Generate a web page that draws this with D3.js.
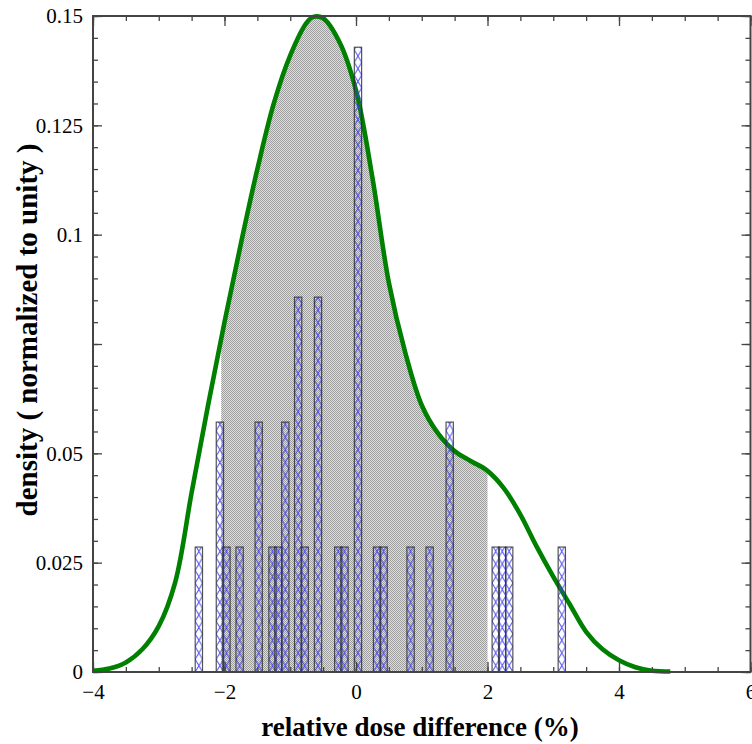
<!DOCTYPE html>
<html>
<head>
<meta charset="utf-8">
<script src="https://cdn.jsdelivr.net/npm/d3@7"></script>
<style>
  body { margin: 0; background: #fff; }
  svg { display: block; font-family: "Liberation Serif", "DejaVu Serif", serif; }
</style>
</head>
<body>
<script>
// histogram bins: centre of each bar (%) and number of samples in it
const binCentres = [-2.39, -2.07, -1.97, -1.77, -1.48, -1.27, -1.18, -1.075, -0.88, -0.78,
  -0.578, -0.27, -0.175, 0.03, 0.32, 0.42, 0.83, 1.12, 1.425, 2.125, 2.225, 2.33, 3.13];
const binCounts = [1, 2, 1, 1, 2, 1, 1, 2, 3, 1, 3, 1, 1, 5, 1, 1, 1, 1, 2, 1, 1, 1, 1];
const sampleCount = 35;

// kernel density estimate
const kdeX = [-4.0, -3.75, -3.5, -3.25, -3.0, -2.75, -2.5, -2.25, -2.0, -1.75, -1.5, -1.25,
  -1.0, -0.75, -0.65, -0.5, -0.25, 0.0, 0.25, 0.5, 0.75, 1.0, 1.25, 1.5, 1.75, 2.0, 2.25,
  2.5, 2.75, 3.0, 3.25, 3.5, 3.75, 4.0, 4.25, 4.5, 4.78];
const kdeY = [0.0003, 0.0008, 0.0022, 0.0052, 0.0105, 0.0205, 0.041, 0.061, 0.08, 0.098, 0.115,
  0.13, 0.141, 0.1485, 0.1498, 0.1495, 0.144, 0.133, 0.113, 0.089, 0.073, 0.061, 0.0545,
  0.0505, 0.0482, 0.046, 0.042, 0.036, 0.0286, 0.0218, 0.0155, 0.0092, 0.0052, 0.0027, 0.0011,
  0.0003, 0.0001];

// shaded interval under the curve
const shadeRange = [-2.05, 2.0];

const xDomain = [-4, 6];
const yDomain = [0, 0.15];
const xTicks = [-4, -2, 0, 2, 4, 6];
const yTicks = [0, 0.025, 0.05, 0.075, 0.1, 0.125, 0.15];
const yTickLabels = ["0", "0.025", "0.05", "", "0.1", "0.125", "0.15"];

const width = 752, height = 744;
const margin = { top: 16, right: 1.5, bottom: 72, left: 93 };
const barWidth = 0.111;

const x = d3.scaleLinear().domain(xDomain).range([margin.left, width - margin.right]);
const y = d3.scaleLinear().domain(yDomain).range([height - margin.bottom, margin.top]);

const svg = d3.select("body").append("svg")
  .attr("width", width)
  .attr("height", height);

const defs = svg.append("defs");

// fine grey checker used for the shaded region
const checker = defs.append("pattern")
  .attr("id", "checker")
  .attr("patternUnits", "userSpaceOnUse")
  .attr("width", 2).attr("height", 2);
checker.append("rect").attr("width", 2).attr("height", 2).attr("fill", "#dedede");
checker.append("rect").attr("width", 1).attr("height", 1).attr("fill", "#9e9e9e");
checker.append("rect").attr("x", 1).attr("y", 1).attr("width", 1).attr("height", 1).attr("fill", "#9e9e9e");

defs.append("clipPath").attr("id", "shade-clip")
  .append("rect")
  .attr("x", x(shadeRange[0]))
  .attr("y", margin.top)
  .attr("width", x(shadeRange[1]) - x(shadeRange[0]))
  .attr("height", y(0) - margin.top);

const kde = kdeX.map((v, i) => ({ x: v, y: kdeY[i] }));
const curve = d3.curveCatmullRom.alpha(0.5);

svg.append("path")
  .datum(kde)
  .attr("clip-path", "url(#shade-clip)")
  .attr("fill", "url(#checker)")
  .attr("d", d3.area().curve(curve)
    .x((d) => x(d.x)).y0(y(0)).y1((d) => y(d.y)));

const line = d3.line().curve(curve).x((d) => x(d.x)).y((d) => y(d.y));

svg.append("path")
  .datum(kde)
  .attr("fill", "none")
  .attr("stroke", "#008000")
  .attr("stroke-width", 4.6)
  .attr("stroke-linejoin", "round")
  .attr("d", line);

// histogram bars with blue cross hatching
const bars = binCentres.map((c, i) => ({ c, p: binCounts[i] / sampleCount }));
const bw = x(barWidth) - x(0);

bars.forEach((d, i) => {
  const left = x(d.c) - bw / 2;
  const h = 12.7;
  const pat = defs.append("pattern")
    .attr("id", "hatch" + i)
    .attr("patternUnits", "userSpaceOnUse")
    .attr("x", left).attr("y", y(0))
    .attr("width", bw).attr("height", h);
  pat.append("path")
    .attr("d", `M0,0L${bw},${h}M${bw},0L0,${h}`)
    .attr("stroke", "#3a3af5")
    .attr("stroke-opacity", 0.9)
    .attr("stroke-width", 1)
    .attr("fill", "none");
});

svg.append("g")
  .selectAll("rect")
  .data(bars)
  .join("rect")
  .attr("x", (d) => x(d.c) - bw / 2)
  .attr("y", (d) => y(d.p))
  .attr("width", bw)
  .attr("height", (d) => y(0) - y(d.p))
  .attr("fill", (d, i) => `url(#hatch${i})`)
  .attr("stroke", "#2a2a2a")
  .attr("stroke-opacity", 0.8)
  .attr("stroke-width", 1.2);

// frame and inward ticks
const xMinor = d3.range(-4, 6.01, 0.5);
const yMinor = d3.range(0, 0.1501, 0.005);

const axisStyle = (g) => {
  g.select(".domain").remove();
  g.selectAll(".tick line").attr("stroke", "#444").attr("stroke-width", 1.3);
};
const labelStyle = (g) => g.selectAll("text")
  .attr("font-size", 21).attr("fill", "#000").attr("font-family", "Liberation Serif");

const frame = svg.append("g");
[
  [d3.axisBottom(x).tickValues(xMinor).tickSize(-5).tickFormat(""), `translate(0,${y(0)})`],
  [d3.axisTop(x).tickValues(xMinor).tickSize(-5).tickFormat(""), `translate(0,${margin.top})`],
  [d3.axisTop(x).tickValues(xTicks).tickSize(-10).tickFormat(""), `translate(0,${margin.top})`],
  [d3.axisLeft(y).tickValues(yMinor).tickSize(-5).tickFormat(""), `translate(${margin.left},0)`],
  [d3.axisRight(y).tickValues(yMinor).tickSize(-5).tickFormat(""), `translate(${width - margin.right},0)`],
  [d3.axisRight(y).tickValues(yTicks).tickSize(-9).tickFormat(""), `translate(${width - margin.right},0)`],
].forEach(([ax, t]) => frame.append("g").attr("transform", t).call(ax).call(axisStyle));

frame.append("g")
  .attr("transform", `translate(0,${y(0)})`)
  .call(d3.axisBottom(x).tickValues(xTicks).tickSize(-10).tickPadding(12).tickFormat(d3.format("d")))
  .call(axisStyle)
  .call(labelStyle);

frame.append("g")
  .attr("transform", `translate(${margin.left},0)`)
  .call(d3.axisLeft(y).tickValues(yTicks).tickSize(-9).tickPadding(10)
    .tickFormat((d, i) => yTickLabels[i]))
  .call(axisStyle)
  .call(labelStyle);

frame.append("rect")
  .attr("x", margin.left)
  .attr("y", margin.top)
  .attr("width", width - margin.right - margin.left)
  .attr("height", y(0) - margin.top)
  .attr("fill", "none")
  .attr("stroke", "#444")
  .attr("stroke-width", 2);

svg.append("text")
  .attr("x", 420)
  .attr("y", 736)
  .attr("text-anchor", "middle")
  .attr("font-size", 27)
  .attr("font-weight", "bold")
  .text("relative dose difference (%)");

svg.append("text")
  .attr("transform", `translate(37,330) rotate(-90)`)
  .attr("text-anchor", "middle")
  .attr("font-size", 29)
  .attr("font-weight", "bold")
  .text("density ( normalized to unity )");
</script>
</body>
</html>
